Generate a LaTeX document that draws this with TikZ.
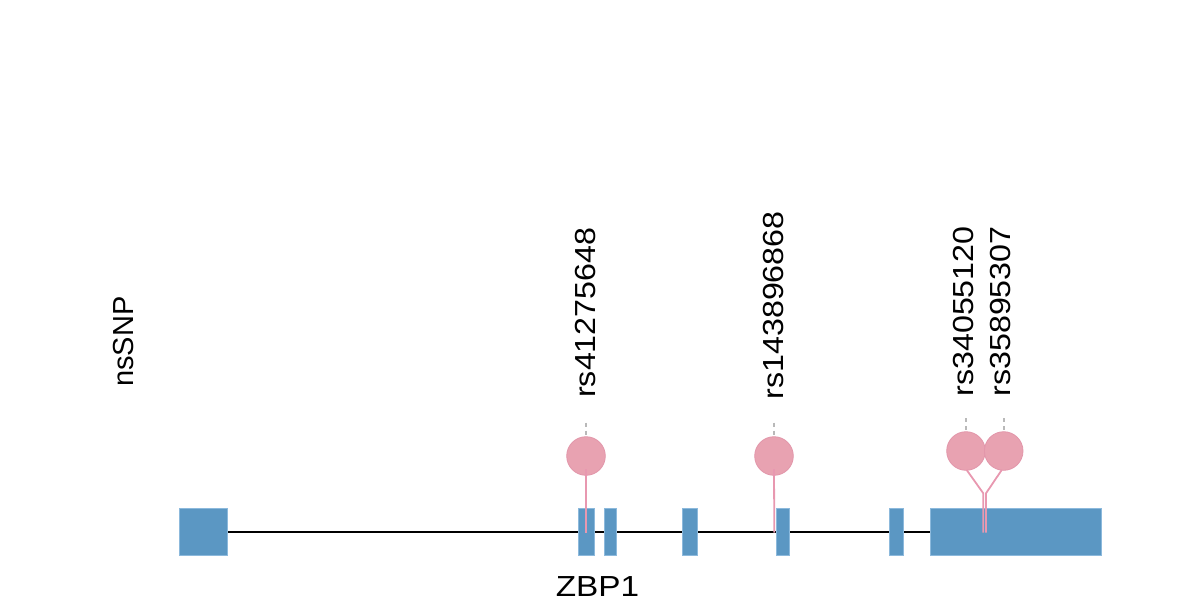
\documentclass[tikz,border=0pt]{standalone}
\usepackage{fontspec}
\setmainfont{Liberation Sans}
\usetikzlibrary{backgrounds,calc}
\definecolor{exonblue}{RGB}{91,151,195}
\definecolor{exonedge}{RGB}{140,185,220}
\definecolor{snpfill}{RGB}{232,162,177}
\definecolor{snpedge}{RGB}{226,150,170}
\definecolor{stemcol}{RGB}{232,152,176}
\definecolor{tickgray}{RGB}{185,185,185}
\begin{document}
\begin{tikzpicture}[x=1pt,y=-1pt,
  exon/.style={draw=exonedge, fill=exonblue, line width=0.6pt, inner sep=0pt, minimum height=47pt},
  snp/.style={circle, draw=snpedge, fill=snpfill, line width=0.8pt, inner sep=0pt, minimum size=38.6pt},
  stem/.style={draw=stemcol, line width=1.8pt},
  backbone/.style={draw=black, line width=2pt},
  tickline/.style={draw=tickgray, line width=1.8pt, dash pattern=on 4pt off 4pt},
  lab/.style={font=\fontsize{29}{34}\selectfont, inner sep=0pt, rotate=90, anchor=west},
  txt/.style={font=\fontsize{29}{34}\selectfont, inner sep=0pt}]
\useasboundingbox (0,0) rectangle (1200,600);
% exons
\node[exon, minimum width=48.5pt] (e1) at (203.25,531.5) {};
\node[exon, minimum width=16pt]   (e2) at (586.7,531.5) {};
\node[exon, minimum width=12.3pt] (e3) at (610.2,531.5) {};
\node[exon, minimum width=15pt]   (e4) at (689.5,531.5) {};
\node[exon, minimum width=13pt]   (e5) at (782.5,531.5) {};
\node[exon, minimum width=14pt]   (e6) at (896,531.5) {};
\node[exon, minimum width=170.3pt] (e7) at (1015.85,531.5) {};
\begin{scope}[on background layer]
\draw[backbone] (e1.east |- 0,532) -- (e7.west |- 0,532);
\end{scope}
% SNP heads
\node[snp] (s1) at (586,456) {};
\node[snp] (s2) at (774,456) {};
\node[snp] (s3) at (966,451) {};
\node[snp] (s4) at (1003.7,451) {};
% stem ends
\coordinate (b1) at (586,532.7);
\coordinate (b2) at (774.3,532.7);
\coordinate (j3) at (983.3,493.3);
\coordinate (j4) at (986,493.3);
\coordinate (b3) at (983.3,532.7);
\coordinate (b4) at (986,532.7);
\draw[stem] ($(s1.center)+(0,13)$) -- (b1);
\draw[stem] ($(s2.center)+(0,13)$) -- (b2);
\draw[stem] ($(s3.center)+(0.7,19)$) -- (j3) -- (b3);
\draw[stem] ($(s4.center)+(-2,19)$) -- (j4) -- (b4);
% labels
\node[lab] (l1) at (585.5,398) {\scalebox{1.11}[1]{rs41275648}};
\node[lab] (l2) at (773.3,399.5) {\scalebox{1.11}[1]{rs143896868}};
\node[lab] (l3) at (964,396.7) {\scalebox{1.11}[1]{rs34055120}};
\node[lab] (l4) at (1000.5,396.7) {\scalebox{1.11}[1]{rs35895307}};
% dotted ticks
\draw[tickline] (586,422.7) -- (586,434.7);
\draw[tickline] (774,422.7) -- (774,434.7);
\draw[tickline] (966,418) -- (966,430);
\draw[tickline] (1003.7,418) -- (1003.7,430);
% texts
\node[txt, rotate=90] (track) at (123.5,341.5) {nsSNP};
\node[txt, anchor=base] (gene) at (597.5,596) {\scalebox{1.15}[1]{ZBP1}};
\end{tikzpicture}
\end{document}
